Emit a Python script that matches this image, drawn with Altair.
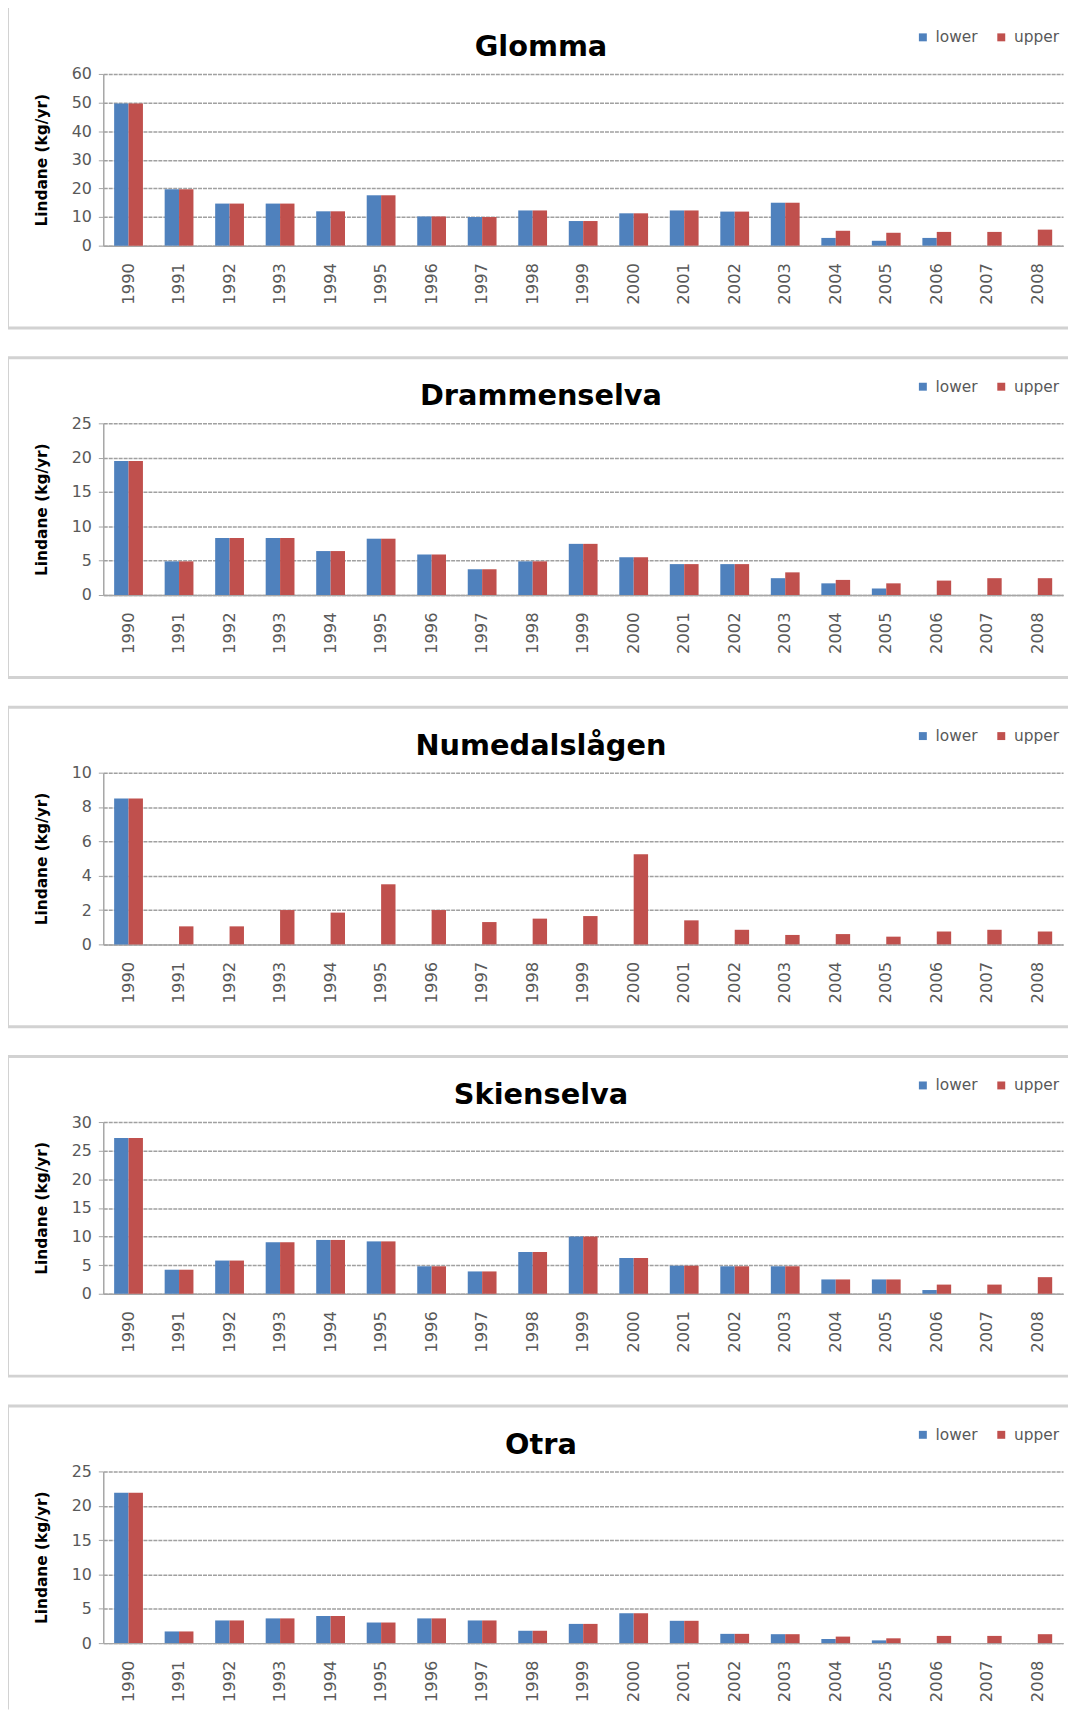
import altair as alt
import pandas as pd

years = ["1990", "1991", "1992", "1993", "1994", "1995", "1996", "1997", "1998", "1999",
         "2000", "2001", "2002", "2003", "2004", "2005", "2006", "2007", "2008"]
series = ["lower", "upper"]
rivers = ["Glomma", "Drammenselva", "Numedalslågen", "Skienselva", "Otra"]

glomma_lower = [49.7, 19.7, 14.7, 14.7, 12.0, 17.6, 10.2, 10.0, 12.3, 8.6, 11.3, 12.3, 11.9, 15.0, 2.7, 1.7, 2.7, None, None]
glomma_upper = [49.7, 19.7, 14.7, 14.7, 12.0, 17.6, 10.2, 10.0, 12.3, 8.6, 11.3, 12.3, 11.9, 15.0, 5.2, 4.5, 4.8, 4.8, 5.6]

drammen_lower = [19.5, 4.9, 8.3, 8.3, 6.4, 8.2, 5.9, 3.75, 4.9, 7.45, 5.5, 4.5, 4.5, 2.45, 1.7, 0.95, None, None, None]
drammen_upper = [19.5, 4.9, 8.3, 8.3, 6.4, 8.2, 5.9, 3.75, 4.9, 7.45, 5.5, 4.5, 4.5, 3.3, 2.2, 1.7, 2.1, 2.45, 2.45]

numedal_lower = [8.5, None, None, None, None, None, None, None, None, None, None, None, None, None, None, None, None, None, None]
numedal_upper = [8.5, 1.05, 1.05, 2.0, 1.85, 3.5, 2.0, 1.3, 1.5, 1.65, 5.25, 1.4, 0.85, 0.55, 0.6, 0.45, 0.75, 0.85, 0.75]

skien_lower = [27.2, 4.2, 5.8, 9.0, 9.4, 9.15, 4.8, 3.9, 7.3, 10.0, 6.25, 4.9, 4.8, 4.8, 2.5, 2.5, 0.65, None, None]
skien_upper = [27.2, 4.2, 5.8, 9.0, 9.4, 9.15, 4.8, 3.9, 7.3, 10.0, 6.25, 4.9, 4.8, 4.8, 2.5, 2.5, 1.6, 1.6, 2.9]

otra_lower = [21.9, 1.7, 3.3, 3.6, 3.95, 3.0, 3.6, 3.3, 1.8, 2.8, 4.35, 3.25, 1.35, 1.3, 0.6, 0.4, None, None, None]
otra_upper = [21.9, 1.7, 3.3, 3.6, 3.95, 3.0, 3.6, 3.3, 1.8, 2.8, 4.35, 3.25, 1.35, 1.3, 0.95, 0.7, 1.05, 1.05, 1.3]

lowers = [glomma_lower, drammen_lower, numedal_lower, skien_lower, otra_lower]
uppers = [glomma_upper, drammen_upper, numedal_upper, skien_upper, otra_upper]

y_max = [60, 25, 10, 30, 25]
y_ticks = [
    [0, 10, 20, 30, 40, 50, 60],
    [0, 5, 10, 15, 20, 25],
    [0, 2, 4, 6, 8, 10],
    [0, 5, 10, 15, 20, 25, 30],
    [0, 5, 10, 15, 20, 25],
]

BLUE = "#4F81BD"
RED = "#C0504D"
FRAME = "#d2d2d2"
GRID = "#a0a0a0"
AXIS = "#a6a6a6"
LABEL = "#595959"
FONT = "DejaVu Sans"

W = 967
H = 173


def frame_layers(i, last):
    fd = alt.Data(values=[{"k": 0}])
    top = -70 if i == 0 else -66
    bottom = 240 if last else 256
    xl = -96.5
    xr = W + 5
    rules = [
        alt.Chart(fd).mark_rule(color=FRAME, strokeWidth=3).encode(
            x=alt.value(xl), y=alt.value(top), y2=alt.value(bottom)),
        alt.Chart(fd).mark_rule(color=FRAME, strokeWidth=3).encode(
            x=alt.value(xl - 1.5), x2=alt.value(xr), y=alt.value(top)),
    ]
    if not last:
        rules.append(
            alt.Chart(fd).mark_rule(color=FRAME, strokeWidth=3).encode(
                x=alt.value(xl - 1.5), x2=alt.value(xr), y=alt.value(bottom)))
    title = alt.Chart(fd).mark_text(
        font=FONT, fontSize=29, fontWeight="bold", color="black",
        align="center", baseline="middle"
    ).encode(x=alt.value(W / 2 - 42.5), y=alt.value(-27), text=alt.value(rivers[i]))
    return rules + [title]


def panel(i):
    rows = []
    for j, yr in enumerate(years):
        rows.append({"year": yr, "series": "lower", "value": lowers[i][j]})
        rows.append({"year": yr, "series": "upper", "value": uppers[i][j]})
    df = pd.DataFrame(rows)

    bars = alt.Chart(df).mark_bar().encode(
        x=alt.X("year:N", sort=years,
                scale=alt.Scale(paddingInner=0.43, paddingOuter=0.215),
                axis=alt.Axis(title=None, labelAngle=270, ticks=False, labelPadding=17,
                              labelFont=FONT, labelFontSize=16.5, labelColor=LABEL,
                              domainColor=AXIS, domainWidth=1.5, grid=False)),
        xOffset=alt.XOffset("series:N", sort=series),
        y=alt.Y("value:Q", scale=alt.Scale(domain=[0, y_max[i]], nice=False),
                axis=alt.Axis(values=y_ticks[i], title="Lindane (kg/yr)",
                              labelFont=FONT, labelFontSize=16, labelColor=LABEL,
                              labelPadding=7, tickSize=5, tickColor=AXIS,
                              domainColor=AXIS, domainWidth=1.5,
                              titleFont=FONT, titleFontSize=15.5, titleFontWeight="bold",
                              titleColor="black", titlePadding=22,
                              grid=True, gridColor=GRID, gridDash=[4, 1], gridWidth=1.5)),
        color=alt.Color("series:N",
                        scale=alt.Scale(domain=series, range=[BLUE, RED]),
                        legend=alt.Legend(orient="none", legendX=818, legendY=-45,
                                          direction="horizontal", title=None,
                                          symbolType="square", symbolSize=64,
                                          symbolStrokeWidth=0,
                                          labelFont=FONT, labelFontSize=15.5,
                                          labelColor=LABEL, labelOffset=5,
                                          columnPadding=16, padding=0)),
    )
    layers = frame_layers(i, i == len(rivers) - 1) + [bars]
    return alt.layer(*layers).properties(width=W, height=H)


chart = alt.vconcat(*[panel(i) for i in range(len(rivers))], spacing=26).resolve_scale(
    color="independent", x="independent", y="independent"
).resolve_legend(color="independent").properties(
    padding={"top": -12, "left": -4, "right": 0, "bottom": 0}
).configure_view(stroke=None)

chart.save("out.html", embed_options={"renderer": "svg", "actions": False})
